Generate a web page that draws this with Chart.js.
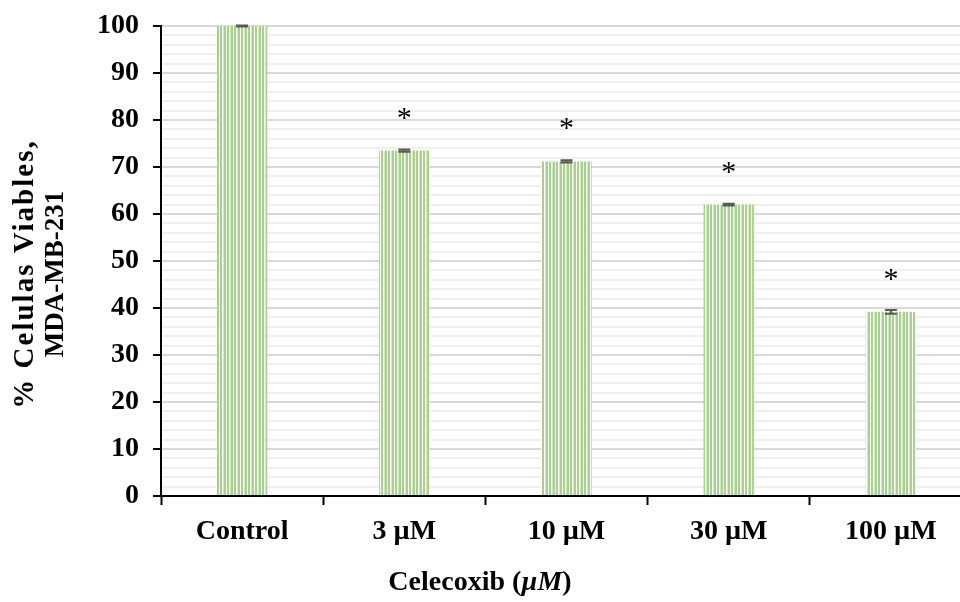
<!DOCTYPE html>
<html>
<head>
<meta charset="utf-8">
<script src="https://cdn.jsdelivr.net/npm/chart.js@4"></script>
<style>
  html, body { margin: 0; padding: 0; overflow: hidden; background: #fff; }
  #wrap { position: absolute; left: 0; top: 0; width: 972px; height: 602px; }
</style>
</head>
<body>
<div id="wrap"><canvas id="viabilityChart"></canvas></div>
<script>
// data
const categories = ['Control', '3 µM', '10 µM', '30 µM', '100 µM'];
const viability = [100, 73.5, 71.2, 62.0, 39.2];
const errors = [0.1, 0.25, 0.25, 0.2, 0.4];
const marks = ['', '*', '*', '*', '*'];
const yTicks = [0, 10, 20, 30, 40, 50, 60, 70, 80, 90, 100];
const yTitleLines = ['% Celulas Viables,', 'MDA-MB-231'];

const SERIF = '"Liberation Serif", "Times New Roman", serif';
const BAR_GREEN = '#a9d18e';

// vertical stripe fill like the original bars
function stripePattern() {
  const c = document.createElement('canvas');
  c.width = 7; c.height = 4;
  const g = c.getContext('2d');
  g.fillStyle = '#ffffff';
  g.fillRect(0, 0, 7, 4);
  g.fillStyle = BAR_GREEN;
  g.fillRect(0, 0, 2, 4);
  g.fillRect(3, 0, 2, 4);
  g.fillStyle = '#d4e8c6';
  g.fillRect(6, 0, 1, 4);
  return g.createPattern(c, 'repeat');
}

const errorBars = {
  id: 'errorBars',
  afterDatasetsDraw(chart) {
    const y = chart.scales.y;
    const meta = chart.getDatasetMeta(0);
    const ctx = chart.ctx;
    ctx.save();
    ctx.strokeStyle = '#595959';
    ctx.lineWidth = 2;
    meta.data.forEach((bar, i) => {
      const top = y.getPixelForValue(viability[i] + errors[i]);
      const bot = y.getPixelForValue(viability[i] - errors[i]);
      ctx.beginPath();
      ctx.moveTo(bar.x, top); ctx.lineTo(bar.x, bot);
      ctx.moveTo(bar.x - 6, top); ctx.lineTo(bar.x + 6, top);
      ctx.moveTo(bar.x - 6, bot); ctx.lineTo(bar.x + 6, bot);
      ctx.stroke();
    });
    ctx.restore();
  }
};

const significance = {
  id: 'significance',
  afterDatasetsDraw(chart) {
    const y = chart.scales.y;
    const meta = chart.getDatasetMeta(0);
    const ctx = chart.ctx;
    ctx.save();
    ctx.fillStyle = '#000';
    ctx.font = '30px ' + SERIF;
    ctx.textAlign = 'center';
    ctx.textBaseline = 'middle';
    meta.data.forEach((bar, i) => {
      if (!marks[i]) return;
      ctx.fillText(marks[i], bar.x, y.getPixelForValue(viability[i] + 7) + 1);
    });
    ctx.restore();
  }
};

// axis titles drawn by hand: italic unit on x, off-centre two-line title on y
const axisTitles = {
  id: 'axisTitles',
  afterDraw(chart) {
    const ctx = chart.ctx;
    ctx.save();
    ctx.fillStyle = '#000';

    const parts = [
      ['Celecoxib (', 'bold 28px ' + SERIF],
      ['µM', 'italic bold 28px ' + SERIF],
      [')', 'bold 28px ' + SERIF]
    ];
    ctx.textBaseline = 'alphabetic';
    ctx.textAlign = 'left';
    let total = 0;
    parts.forEach(p => { ctx.font = p[1]; total += ctx.measureText(p[0]).width; });
    let x = 480 - total / 2;
    parts.forEach(p => {
      ctx.font = p[1];
      ctx.fillText(p[0], x, 590);
      x += ctx.measureText(p[0]).width;
    });

    ctx.translate(0, 274);
    ctx.rotate(-Math.PI / 2);
    ctx.textAlign = 'center';
    ctx.textBaseline = 'middle';
    ctx.font = 'bold 29px ' + SERIF;
    ctx.letterSpacing = '2px';
    ctx.fillText(yTitleLines[0], 0, 26);
    ctx.letterSpacing = '0px';
    ctx.font = 'bold 27px ' + SERIF;
    ctx.fillText(yTitleLines[1], 0, 56);
    ctx.restore();
  }
};

const ctx = document.getElementById('viabilityChart').getContext('2d');
new Chart(ctx, {
  type: 'bar',
  data: {
    labels: categories,
    datasets: [{
      data: viability,
      backgroundColor: stripePattern(),
      borderWidth: 0,
      barPercentage: 0.31,
      categoryPercentage: 1
    }]
  },
  options: {
    responsive: true,
    maintainAspectRatio: false,
    animation: false,
    layout: { padding: { top: 0, left: 0, right: 0, bottom: 56 } },
    plugins: { legend: { display: false }, tooltip: { enabled: false } },
    scales: {
      x: {
        afterFit: s => { s.height = 50; },
        grid: {
          offset: true,
          drawOnChartArea: false,
          drawTicks: true,
          tickLength: 9,
          tickColor: '#000',
          tickWidth: 2
        },
        border: { color: '#000', width: 2 },
        ticks: {
          color: '#000',
          padding: 10,
          font: { family: SERIF, size: 28, weight: 'bold' }
        }
      },
      y: {
        min: 0,
        max: 100,
        afterFit: s => { s.width = 161; },
        afterBuildTicks: s => {
          const t = [];
          for (let v = 0; v <= 100; v += 2) t.push({ value: v });
          s.ticks = t;
        },
        grid: {
          color: c => (c.tick && yTicks.includes(c.tick.value)) ? '#d9d9d9' : '#f0f0f0',
          lineWidth: 2,
          tickColor: c => (c.tick && yTicks.includes(c.tick.value)) ? '#000' : 'rgba(0,0,0,0)',
          tickLength: 8,
          tickWidth: 2
        },
        border: { color: '#000', width: 2 },
        ticks: {
          autoSkip: false,
          color: '#000',
          padding: 14,
          font: { family: SERIF, size: 28, weight: 'bold', lineHeight: 0.86 },
          callback: v => yTicks.includes(v) ? String(v) : ''
        }
      }
    }
  },
  plugins: [errorBars, significance, axisTitles]
});
</script>
</body>
</html>
